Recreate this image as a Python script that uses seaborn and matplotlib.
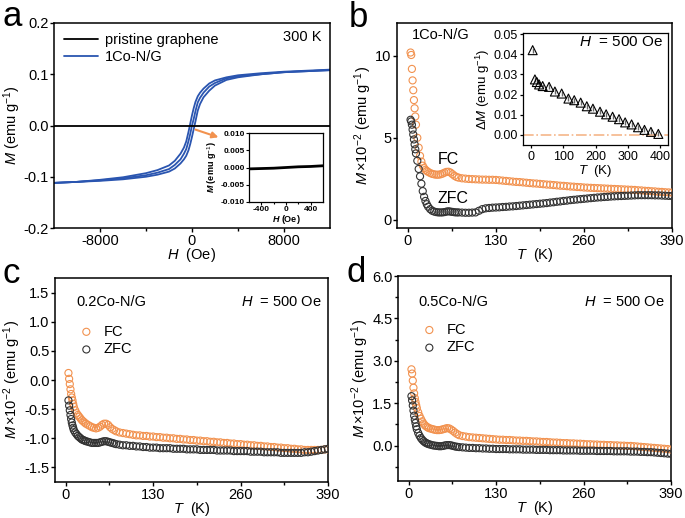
import matplotlib
matplotlib.use('Agg')
import matplotlib.pyplot as plt
import seaborn as sns
import pandas as pd
from matplotlib.ticker import FixedLocator, FormatStrFormatter

# ---------------- data ----------------
# panel a: hysteresis loop of 1Co-N/G at 300 K (emu/g) and pristine graphene
H_loop = [-12000, -10000, -8000, -6000, -4000, -3000, -2000, -1500, -1000, -700, -500, -300, -150, 0,
          150, 300, 500, 700, 1000, 1500, 2000, 3000, 4000, 6000, 8000, 10000, 12000]
M_desc = [-0.112, -0.110, -0.106, -0.101, -0.093, -0.087, -0.078, -0.069, -0.055, -0.043, -0.031, -0.012, 0.004, 0.020,
          0.034, 0.046, 0.057, 0.064, 0.072, 0.082, 0.088, 0.094, 0.098, 0.102, 0.105, 0.107, 0.109]
M_mid = [-0.112, -0.110, -0.107, -0.103, -0.097, -0.092, -0.085, -0.077, -0.066, -0.055, -0.046, -0.030, -0.016, 0.000,
         0.013, 0.028, 0.045, 0.054, 0.064, 0.076, 0.083, 0.092, 0.096, 0.100, 0.104, 0.106, 0.108]
M_asc = [-0.112, -0.110, -0.108, -0.105, -0.100, -0.096, -0.090, -0.084, -0.074, -0.066, -0.059, -0.048, -0.036, -0.022,
         -0.007, 0.008, 0.029, 0.042, 0.055, 0.068, 0.078, 0.089, 0.094, 0.100, 0.104, 0.106, 0.108]
H_pg = [-12000, -6000, 0, 6000, 12000]
M_pg = [0.0, 0.0, 0.0, 0.0, 0.0]
H_pg_in = [-600, -400, -200, 0, 200, 400, 600]
M_pg_in = [-0.0004, -0.0003, -0.0002, 0.0, 0.0002, 0.0003, 0.0005]

# temperature grid for FC/ZFC curves (K)
T = [4, 5, 6, 7, 8, 9, 10, 11, 12,
     14, 16, 18, 20, 22, 24, 26, 28, 30,
     33, 36, 39, 42, 45, 48, 51, 54, 57, 60, 63, 66, 69, 72, 75,
     80, 85, 90, 95, 100, 105, 110, 115, 120, 125, 130,
     135, 140, 145, 150, 155, 160, 165, 170, 175, 180, 185, 190, 195, 200, 205, 210, 215, 220, 225, 230,
     235, 240, 245, 250, 255, 260,
     265, 270, 275, 280, 285, 290, 295, 300, 305, 310, 315, 320, 325, 330, 335, 340, 345, 350, 355, 360,
     365, 370, 375, 380, 385, 390]

# panel b: 1Co-N/G (x10^-2 emu/g)
FC_1 = [10.20, 10.05, 9.20, 8.50, 7.90, 7.30, 6.80, 6.30, 5.80,
        5.00, 4.40, 3.90, 3.55, 3.30, 3.15, 3.05, 2.98, 2.92,
        2.85, 2.80, 2.77, 2.75, 2.75, 2.77, 2.81, 2.87, 2.92, 2.93, 2.88, 2.78, 2.68, 2.61, 2.57,
        2.53, 2.51, 2.49, 2.48, 2.47, 2.46, 2.45, 2.45, 2.44, 2.44, 2.43,
        2.41, 2.39, 2.37, 2.35, 2.33, 2.31, 2.30, 2.28, 2.26, 2.24, 2.22, 2.21, 2.19, 2.17, 2.15, 2.14,
        2.12, 2.10, 2.08, 2.07, 2.05, 2.03, 2.02, 2.00, 1.99, 1.97,
        1.96, 1.95, 1.94, 1.93, 1.92, 1.91, 1.90, 1.89, 1.88, 1.87, 1.86, 1.85, 1.84, 1.83, 1.82, 1.80,
        1.79, 1.77, 1.76, 1.74, 1.73, 1.71, 1.70, 1.68, 1.67, 1.66]
ZFC_1 = [6.10, 6.00, 5.80, 5.50, 5.20, 4.90, 4.60, 4.30, 4.05,
         3.60, 3.10, 2.65, 2.20, 1.75, 1.40, 1.15, 0.95, 0.80,
         0.65, 0.55, 0.50, 0.47, 0.45, 0.45, 0.45, 0.47, 0.50, 0.52, 0.50, 0.48, 0.46, 0.45, 0.45,
         0.44, 0.43, 0.43, 0.44, 0.45, 0.55, 0.65, 0.70, 0.72, 0.74, 0.75,
         0.76, 0.78, 0.79, 0.81, 0.82, 0.84, 0.86, 0.88, 0.90, 0.92, 0.94, 0.96, 0.98, 1.00, 1.02, 1.05,
         1.07, 1.10, 1.12, 1.15, 1.17, 1.20, 1.22, 1.24, 1.26, 1.28,
         1.30, 1.32, 1.34, 1.36, 1.37, 1.39, 1.40, 1.42, 1.43, 1.44, 1.45, 1.46, 1.47, 1.48, 1.49, 1.50,
         1.50, 1.50, 1.50, 1.50, 1.49, 1.49, 1.48, 1.47, 1.46, 1.45]

# panel b inset: Delta M (emu/g)
T_dM = [5, 12, 18, 25, 36, 56, 74, 95, 116, 134, 154, 173, 192, 214, 233, 253, 273, 292, 312, 332, 352, 372, 395]
dM = [0.0420, 0.0275, 0.0262, 0.0250, 0.0242, 0.0238, 0.0215, 0.0205, 0.0180, 0.0172, 0.0160, 0.0142,
      0.0130, 0.0115, 0.0102, 0.0090, 0.0078, 0.0062, 0.0052, 0.0038, 0.0025, 0.0015, 0.0005]
dM_err = [0.0012] * len(dM)

# panel c: 0.2Co-N/G
FC_02 = [0.12, 0.02, -0.07, -0.16, -0.24, -0.30, -0.35, -0.41, -0.46,
         -0.52, -0.57, -0.60, -0.63, -0.66, -0.69, -0.71, -0.73, -0.75,
         -0.77, -0.79, -0.81, -0.82, -0.83, -0.82, -0.80, -0.77, -0.75, -0.75, -0.77, -0.81, -0.84, -0.86, -0.88,
         -0.90, -0.91, -0.92, -0.93, -0.94, -0.95, -0.95, -0.96, -0.96, -0.97, -0.97,
         -0.98, -0.98, -0.99, -0.99, -1.00, -1.00, -1.01, -1.01, -1.02, -1.02, -1.03, -1.03, -1.04, -1.04,
         -1.05, -1.05, -1.06, -1.06, -1.07, -1.07, -1.08, -1.08, -1.09, -1.09, -1.10, -1.10,
         -1.11, -1.11, -1.12, -1.12, -1.13, -1.13, -1.14, -1.14, -1.15, -1.15, -1.16, -1.16, -1.17, -1.17,
         -1.18, -1.18, -1.19, -1.19, -1.20, -1.20, -1.20, -1.20, -1.20, -1.20, -1.19, -1.19]
ZFC_02 = [-0.35, -0.44, -0.52, -0.60, -0.67, -0.73, -0.78, -0.82, -0.86,
          -0.90, -0.93, -0.96, -0.98, -1.00, -1.02, -1.03, -1.04, -1.05,
          -1.06, -1.07, -1.08, -1.08, -1.08, -1.08, -1.07, -1.06, -1.05, -1.05, -1.06, -1.07, -1.08, -1.09, -1.10,
          -1.11, -1.12, -1.12, -1.13, -1.13, -1.14, -1.14, -1.15, -1.15, -1.16, -1.16,
          -1.16, -1.17, -1.17, -1.17, -1.17, -1.18, -1.18, -1.18, -1.18, -1.19, -1.19, -1.19, -1.19,
          -1.20, -1.20, -1.20, -1.20, -1.20, -1.21, -1.21, -1.21, -1.21, -1.21, -1.22, -1.22, -1.22,
          -1.22, -1.22, -1.23, -1.23, -1.23, -1.23, -1.24, -1.24, -1.24, -1.24, -1.24, -1.25, -1.25,
          -1.25, -1.25, -1.25, -1.25, -1.25, -1.24, -1.24, -1.23, -1.22, -1.21, -1.20, -1.19, -1.18]

# panel d: 0.5Co-N/G
FC_05 = [2.70, 2.55, 2.30, 2.05, 1.85, 1.68, 1.55, 1.43, 1.33,
         1.18, 1.05, 0.95, 0.86, 0.78, 0.72, 0.68, 0.65, 0.62,
         0.60, 0.58, 0.56, 0.55, 0.55, 0.56, 0.58, 0.60, 0.62, 0.61, 0.57, 0.52, 0.46, 0.41, 0.37,
         0.34, 0.32, 0.30, 0.29, 0.28, 0.27, 0.26, 0.25, 0.24, 0.23, 0.22,
         0.21, 0.21, 0.20, 0.20, 0.19, 0.18, 0.18, 0.17, 0.17, 0.16, 0.15, 0.15, 0.14, 0.13, 0.13,
         0.12, 0.11, 0.11, 0.10, 0.09, 0.09, 0.08, 0.08, 0.07, 0.07, 0.06,
         0.05, 0.05, 0.04, 0.04, 0.03, 0.03, 0.02, 0.02, 0.01, 0.01, 0.00, 0.00, -0.01, -0.01,
         -0.02, -0.03, -0.04, -0.05, -0.06, -0.07, -0.08, -0.09, -0.10, -0.11, -0.12, -0.14]
ZFC_05 = [1.75, 1.60, 1.42, 1.24, 1.06, 0.92, 0.80, 0.68, 0.58,
          0.45, 0.35, 0.27, 0.21, 0.16, 0.12, 0.09, 0.07, 0.05,
          0.03, 0.01, 0.00, -0.01, -0.02, -0.02, -0.01, 0.01, 0.02, 0.02, 0.01, -0.01, -0.03, -0.04, -0.05,
          -0.06, -0.07, -0.08, -0.08, -0.09, -0.09, -0.10, -0.10, -0.11, -0.11, -0.12,
          -0.12, -0.12, -0.12, -0.13, -0.13, -0.13, -0.13, -0.14, -0.14, -0.14, -0.14, -0.15, -0.15,
          -0.15, -0.15, -0.16, -0.16, -0.16, -0.16, -0.17, -0.17, -0.17, -0.17, -0.17, -0.18, -0.18,
          -0.18, -0.18, -0.18, -0.19, -0.19, -0.19, -0.19, -0.19, -0.20, -0.20, -0.20, -0.20, -0.20,
          -0.21, -0.21, -0.21, -0.22, -0.22, -0.23, -0.23, -0.24, -0.25, -0.26, -0.27, -0.28, -0.29]

for s in (FC_1, ZFC_1, FC_02, ZFC_02, FC_05, ZFC_05):
    assert len(s) == len(T), len(s)

# ---------------- style ----------------
sns.set_style('ticks')
plt.rcParams['font.family'] = ['Liberation Sans', 'DejaVu Sans']
plt.rcParams['mathtext.fontset'] = 'custom'
plt.rcParams['mathtext.rm'] = 'Liberation Sans'
plt.rcParams['mathtext.it'] = 'Liberation Sans:italic'
plt.rcParams['mathtext.bf'] = 'Liberation Sans:italic:bold'
plt.rcParams['axes.unicode_minus'] = False
plt.rcParams['axes.edgecolor'] = 'black'
plt.rcParams['axes.linewidth'] = 1.1
plt.rcParams['text.color'] = 'black'
plt.rcParams['axes.labelcolor'] = 'black'
for k in ('xtick', 'ytick'):
    plt.rcParams[k + '.color'] = 'black'
    plt.rcParams[k + '.labelcolor'] = 'black'
    plt.rcParams[k + '.direction'] = 'out'
    plt.rcParams[k + '.major.size'] = 2.6
    plt.rcParams[k + '.minor.size'] = 2.0
    plt.rcParams[k + '.major.width'] = 1.0
    plt.rcParams[k + '.minor.width'] = 1.0
    plt.rcParams[k + '.major.pad'] = 1.4
    plt.rcParams[k + '.labelsize'] = 10.5

ORANGE = '#F2924F'
BLUE = '#2A55B0'
GRAY = '#333333'

fig = plt.figure(figsize=(6.85, 5.18), dpi=100)
W, Hh = 685.0, 518.0


def axbox(l, t, r, b):
    return [l / W, 1 - b / Hh, (r - l) / W, (b - t) / Hh]


ax_a = fig.add_axes(axbox(54, 23, 330, 228))
ax_b = fig.add_axes(axbox(397, 23, 672, 228))
ax_c = fig.add_axes(axbox(55, 278, 328, 482))
ax_d = fig.add_axes(axbox(398, 276, 671, 481))
in_a = fig.add_axes(axbox(249, 133, 323, 202))
in_b = fig.add_axes(axbox(523, 33, 668, 145))

LBL = 10.5

# ---------------- panel a ----------------
sns.lineplot(x=H_pg, y=M_pg, ax=ax_a, color='black', lw=1.3, label='pristine graphene', zorder=4)
sns.lineplot(x=H_loop, y=M_desc, ax=ax_a, color=BLUE, lw=1.3, sort=False, estimator=None, label='1Co-N/G')
sns.lineplot(x=H_loop, y=M_mid, ax=ax_a, color=BLUE, lw=1.3, sort=False, estimator=None)
sns.lineplot(x=H_loop, y=M_asc, ax=ax_a, color=BLUE, lw=1.3, sort=False, estimator=None)
ax_a.set_xlim(-12000, 12000)
ax_a.set_ylim(-0.2, 0.2)
ax_a.xaxis.set_major_locator(FixedLocator([-8000, 0, 8000]))
ax_a.xaxis.set_minor_locator(FixedLocator([-4000, 4000]))
ax_a.yaxis.set_major_locator(FixedLocator([-0.2, -0.1, 0.0, 0.1, 0.2]))
ax_a.yaxis.set_major_formatter(FormatStrFormatter('%.1f'))
ax_a.set_xlabel(r'$H$  (Oe)', fontsize=LBL, labelpad=-1)
ax_a.set_ylabel(r'$M$ (emu g$^{-1}$)', fontsize=LBL, labelpad=0)
ax_a.legend(loc='upper left', frameon=False, fontsize=10.5, handlelength=2.3, handletextpad=0.5,
            labelspacing=0.2, borderaxespad=0.3)
ax_a.text(0.97, 0.93, '300 K', transform=ax_a.transAxes, ha='right', va='center', fontsize=10.5)
ax_a.annotate('', xy=(2300, -0.023), xytext=(300, -0.008),
              arrowprops=dict(arrowstyle='-|>', color=ORANGE, lw=1.5, mutation_scale=9, shrinkA=0, shrinkB=0))

sns.lineplot(x=H_pg_in, y=M_pg_in, ax=in_a, color='black', lw=2.0)
in_a.set_xlim(-600, 600)
in_a.set_ylim(-0.010, 0.010)
in_a.xaxis.set_major_locator(FixedLocator([-400, 0, 400]))
in_a.xaxis.set_minor_locator(FixedLocator([-200, 200]))
in_a.yaxis.set_major_locator(FixedLocator([-0.010, -0.005, 0.0, 0.005, 0.010]))
in_a.yaxis.set_major_formatter(FormatStrFormatter('%.3f'))
in_a.tick_params(labelsize=6, length=2, width=0.8, pad=1)
in_a.tick_params(which='minor', length=1.5, width=0.8)
for lab in in_a.get_xticklabels() + in_a.get_yticklabels():
    lab.set_fontweight('bold')
for sp in in_a.spines.values():
    sp.set_linewidth(0.9)
in_a.set_xlabel(r'$\mathbf{H}$ (Oe)', fontsize=6.5, fontweight='bold', labelpad=0)
in_a.set_ylabel(r'$\mathbf{M}$ (emu g$^{-1}$)', fontsize=6.5, fontweight='bold', labelpad=1)


# ---------------- FC / ZFC panels ----------------
def fczfc(ax, fc, zfc, label_legend):
    sns.scatterplot(x=T, y=fc, ax=ax, marker='o', s=26, color=ORANGE, facecolors='none',
                    edgecolors=ORANGE, linewidths=0.8, label='FC' if label_legend else None, zorder=3)
    sns.scatterplot(x=T, y=zfc, ax=ax, marker='o', s=26, color=GRAY, facecolors='none',
                    edgecolors=GRAY, linewidths=0.8, label='ZFC' if label_legend else None, zorder=4)
    ax.set_xlim(-16, 390)
    ax.xaxis.set_major_locator(FixedLocator([0, 130, 260, 390]))
    ax.xaxis.set_minor_locator(FixedLocator([65, 195, 325]))
    ax.set_xlabel(r'$T$  (K)', fontsize=LBL, labelpad=-1)
    ax.set_ylabel(r'$M\,{\times}10^{-2}$ (emu g$^{-1}$)', fontsize=LBL, labelpad=1)


fczfc(ax_b, FC_1, ZFC_1, False)
ax_b.set_ylim(-0.5, 12)
ax_b.yaxis.set_major_locator(FixedLocator([0, 5, 10]))
ax_b.text(0.055, 0.94, '1Co-N/G', transform=ax_b.transAxes, ha='left', va='center', fontsize=10.5)
ax_b.text(44, 3.7, 'FC', ha='left', va='center', fontsize=11.5)
ax_b.text(44, 1.3, 'ZFC', ha='left', va='center', fontsize=11.5)

sns.scatterplot(x=T_dM, y=dM, ax=in_b, marker='^', s=42, color='black', facecolors='none',
                edgecolors='black', linewidths=0.8, zorder=4)
in_b.errorbar(T_dM, dM, yerr=dM_err, fmt='none', ecolor='#666666', elinewidth=1.0, capsize=0, zorder=3)
in_b.axhline(0, color='#F5B68A', lw=1.2, ls='-.', zorder=2)
in_b.set_xlim(-25, 425)
in_b.set_ylim(-0.005, 0.0505)
in_b.xaxis.set_major_locator(FixedLocator([0, 100, 200, 300, 400]))
in_b.yaxis.set_major_locator(FixedLocator([0.0, 0.01, 0.02, 0.03, 0.04, 0.05]))
in_b.yaxis.set_major_formatter(FormatStrFormatter('%.2f'))
in_b.tick_params(labelsize=9, length=2.5, width=0.9, pad=1.5)
for sp in in_b.spines.values():
    sp.set_linewidth(0.9)
in_b.set_xlabel(r'$T$  (K)', fontsize=9.5, labelpad=0.5)
in_b.set_ylabel(r'$\Delta M$ (emu g$^{-1}$)', fontsize=9.5, labelpad=0.5)
in_b.text(0.965, 0.92, r'$H$  = 500 Oe', transform=in_b.transAxes, ha='right', va='center', fontsize=11)

fczfc(ax_c, FC_02, ZFC_02, True)
ax_c.set_ylim(-1.75, 1.75)
ax_c.yaxis.set_major_locator(FixedLocator([-1.5, -1.0, -0.5, 0.0, 0.5, 1.0, 1.5]))
ax_c.yaxis.set_major_formatter(FormatStrFormatter('%.1f'))
ax_c.text(0.08, 0.88, '0.2Co-N/G', transform=ax_c.transAxes, ha='left', va='center', fontsize=10.5)
ax_c.text(0.978, 0.88, r'$H$  = 500 Oe', transform=ax_c.transAxes, ha='right', va='center', fontsize=10.5)
ax_c.legend(loc='upper left', bbox_to_anchor=(0.04, 0.8), frameon=False, fontsize=10.5,
            handletextpad=0.2, labelspacing=0.25, borderaxespad=0, markerscale=1.0)

fczfc(ax_d, FC_05, ZFC_05, True)
ax_d.set_ylim(-1.25, 6.0)
ax_d.yaxis.set_major_locator(FixedLocator([0.0, 1.5, 3.0, 4.5, 6.0]))
ax_d.yaxis.set_minor_locator(FixedLocator([-0.75, 0.75, 2.25, 3.75, 5.25]))
ax_d.yaxis.set_major_formatter(FormatStrFormatter('%.1f'))
ax_d.text(0.073, 0.875, '0.5Co-N/G', transform=ax_d.transAxes, ha='left', va='center', fontsize=10.5)
ax_d.text(0.978, 0.875, r'$H$  = 500 Oe', transform=ax_d.transAxes, ha='right', va='center', fontsize=10.5)
ax_d.legend(loc='upper left', bbox_to_anchor=(0.04, 0.8), frameon=False, fontsize=10.5,
            handletextpad=0.2, labelspacing=0.25, borderaxespad=0, markerscale=1.0)

for ax in (ax_a, ax_b, ax_c, ax_d, in_a, in_b):
    for sp in ('top', 'right'):
        ax.spines[sp].set_visible(True)

# panel letters
fig.text(2 / W, 1 - 26 / Hh, 'a', fontsize=25, va='baseline', ha='left')
fig.text(349 / W, 1 - 27 / Hh, 'b', fontsize=25, va='baseline', ha='left')
fig.text(2 / W, 1 - 283 / Hh, 'c', fontsize=25, va='baseline', ha='left')
fig.text(346 / W, 1 - 282 / Hh, 'd', fontsize=25, va='baseline', ha='left')

fig.savefig('out.png', dpi=100)
